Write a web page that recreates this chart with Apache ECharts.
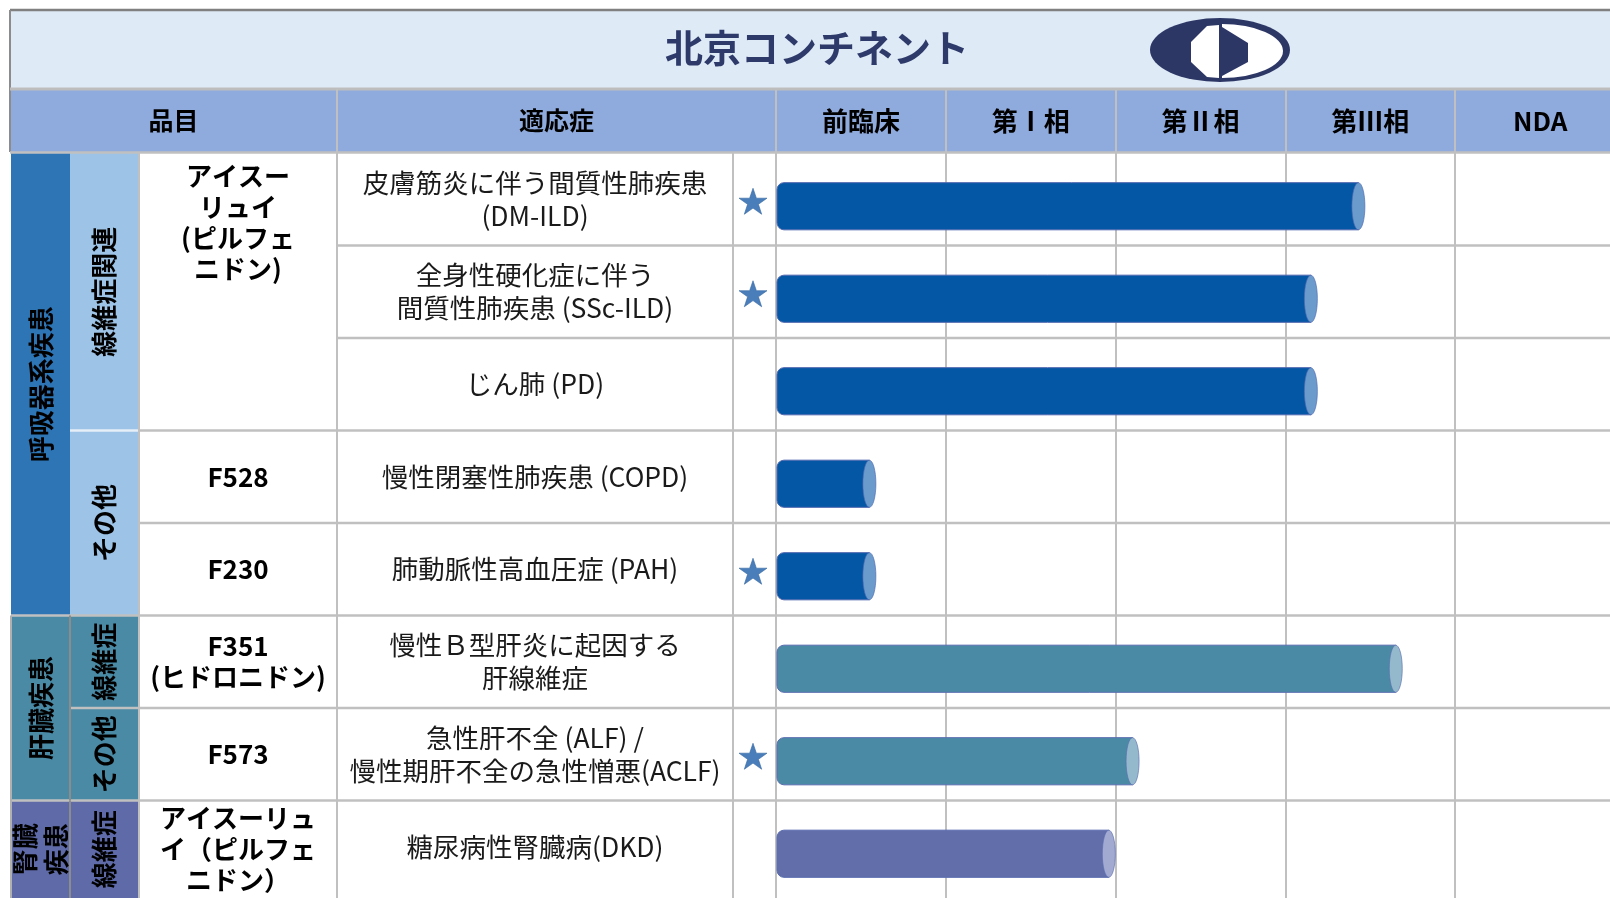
<!DOCTYPE html>
<html>
<head>
<meta charset="utf-8">
<script src="https://cdn.jsdelivr.net/npm/echarts@6/dist/echarts.min.js"></script>
<style>
html, body { margin: 0; padding: 0; background: #ffffff; }
#chart { width: 1610px; height: 898px; }
</style>
</head>
<body>
<div id="chart"></div>
<script>
// ---------------- data ----------------
const titleText = '北京コンチネント';
const headerProduct = '品目';
const headerIndication = '適応症';
const phases = ['前臨床', '第Ⅰ相', '第Ⅱ相', '第Ⅲ相', 'NDA'];
const indications = [
  '皮膚筋炎に伴う間質性肺疾患\n(DM-ILD)',
  '全身性硬化症に伴う\n間質性肺疾患 (SSc-ILD)',
  'じん肺 (PD)',
  '慢性閉塞性肺疾患 (COPD)',
  '肺動脈性高血圧症 (PAH)',
  '慢性Ｂ型肝炎に起因する\n肝線維症',
  '急性肝不全 (ALF) /\n慢性期肝不全の急性憎悪(ACLF)',
  '糖尿病性腎臓病(DKD)'
];
// progress measured in phases (1 = one full phase column)
const progress = [3.43, 3.15, 3.15, 0.55, 0.55, 3.65, 2.10, 1.96];
const areaOfRow = [0, 0, 0, 0, 0, 1, 1, 2];
const starred = [1, 1, 0, 0, 1, 0, 1, 0];
const areas = ['呼吸器系疾患', '肝臓疾患', '腎臓\n疾患'];
const areaRows = [[0, 4], [5, 6], [7, 7]];
const subgroups = ['線維症関連', 'その他', '線維症', 'その他', '線維症'];
const subgroupRows = [[0, 2], [3, 4], [5, 5], [6, 6], [7, 7]];
const products = ['アイスー\nリュイ\n(ピルフェ\nニドン)', 'F528', 'F230', 'F351\n(ヒドロニドン)', 'F573', 'アイスーリュ\nイ（ピルフェ\nニドン）'];
const productRows = [[0, 2], [3, 3], [4, 4], [5, 5], [6, 6], [7, 7]];

// ---------------- styles / layout ----------------
const FONT = '"Noto Sans CJK JP", "Noto Sans", sans-serif';
const areaColors = ['#2E75B6', '#4A8AA5', '#5F6BA8'];
const subColors = ['#9DC3E6', '#9DC3E6', '#4A8AA5', '#4A8AA5', '#5F6BA8'];
const barStyles = [
  { body: '#0457A4', cap: '#6A9BCC', edge: '#5068B0' },
  { body: '#4A8AA5', cap: '#95B9CC', edge: '#5A6DB0' },
  { body: '#616EAA', cap: '#A3AAD1', edge: '#5A6DB0' }
];
const LINE = '#C0C0C0';
const COL = { left: 10, c1: 70, c2: 139, c3: 337, c4: 733, c5: 776, right: 1610 };
const TITLE_TOP = 10, HEAD_TOP = 89, HEAD_BOTTOM = 152, BOTTOM = 898;
const starPath = 'path://M50,0 L61.8,35.1 L98.9,35.1 L68.9,56.8 L80.3,91.9 L50,70.2 L19.7,91.9 L31.1,56.8 L1.1,35.1 L38.2,35.1 Z';

const chart = echarts.init(document.getElementById('chart'), null, { renderer: 'canvas' });

function renderBar(params, api) {
  const v = api.value(0), row = api.value(1), area = api.value(2);
  const a = api.coord([0, row]);
  const b = api.coord([v, row]);
  const band = api.size([0, 1])[1];
  const h = band * 0.51;
  const cy = a[1] + 7;
  const top = cy - h / 2;
  const rx = 6.5;
  const st = barStyles[area];
  return {
    type: 'group',
    children: [
      { type: 'rect', shape: { x: a[0] + 1, y: top, width: b[0] - a[0] - 1, height: h, r: [7, 0, 0, 7] },
        style: { fill: st.body, stroke: st.edge, lineWidth: 1 } },
      { type: 'circle', x: b[0], y: cy, scaleX: rx / (h / 2), shape: { cx: 0, cy: 0, r: h / 2 },
        style: { fill: st.cap, stroke: st.edge, lineWidth: 1, strokeNoScale: true } }
    ]
  };
}

const option = {
  animation: false,
  textStyle: { fontFamily: FONT },
  grid: { left: COL.c5, top: 153, width: 849, height: 740, containLabel: false, outerBoundsMode: 'none' },
  xAxis: [
    { type: 'value', min: 0, max: 5, interval: 1, position: 'bottom', z: 3,
      axisLine: { show: false }, axisLabel: { show: false },
      axisTick: { show: true, length: 6, lineStyle: { color: LINE, width: 2 } },
      splitLine: { show: true, lineStyle: { color: LINE, width: 2 } } },
    { type: 'category', data: phases, position: 'top', boundaryGap: true, z: 3,
      axisLine: { show: false },
      axisTick: { show: true, length: 63, lineStyle: { color: LINE, width: 2 } },
      axisLabel: { interval: 0, fontSize: 26, fontWeight: 'bold', color: '#000', margin: 19, fontFamily: FONT },
      splitLine: { show: false } }
  ],
  yAxis: {
    type: 'category', data: indications, inverse: true, z: 3,
    axisLine: { show: false }, axisTick: { show: false }, splitLine: { show: false },
    axisLabel: { interval: 0, align: 'center', margin: COL.c5 - (COL.c3 + COL.c4) / 2,
      fontSize: 26.5, lineHeight: 33, color: '#1A1A1A', fontFamily: FONT }
  },
  series: [
    { type: 'custom', xAxisIndex: 0, yAxisIndex: 0, renderItem: renderBar, clip: false, z: 10, silent: true,
      encode: { x: 0, y: 1 },
      data: progress.map((v, i) => [v, i, areaOfRow[i]]) },
    { type: 'scatter', xAxisIndex: 0, yAxisIndex: 0, clip: false, z: 11, silent: true,
      symbol: starPath, symbolSize: [28, 26], symbolOffset: [-23, 2],
      itemStyle: { color: '#4A7EBB', borderColor: '#34669F', borderWidth: 0.6, opacity: 1 },
      data: starred.map((s, i) => s ? [0, i] : null).filter(d => d) }
  ]
};
chart.setOption(option);

// ---------- table drawn around the axes, positioned from the category scale ----------
const yc = i => chart.convertToPixel({ yAxisIndex: 0 }, i);
const band = yc(1) - yc(0);
const rowTop = i => yc(i) - band / 2;
const rowBottom = i => (i === indications.length - 1 ? BOTTOM : yc(i) + band / 2);

const g = [];
function line(x1, y1, x2, y2, color, w, z) {
  g.push({ type: 'line', z: z || 2, silent: true, shape: { x1, y1, x2, y2 }, style: { stroke: color, lineWidth: w } });
}
function rect(x, y, w, h, fill, z) {
  g.push({ type: 'rect', z: z || 0, silent: true, shape: { x, y, width: w, height: h }, style: { fill } });
}
function text(t, x, y, opts) {
  opts = opts || {};
  g.push({ type: 'text', z: 4, silent: true, x, y, rotation: opts.rot || 0,
    style: { text: t, fill: opts.color || '#000', fontSize: opts.size || 25, fontWeight: opts.weight || 'normal',
      fontFamily: FONT, lineHeight: opts.lh || 31,
      align: 'center', textAlign: 'center',
      verticalAlign: opts.va || 'middle', textVerticalAlign: opts.va || 'middle' } });
}

// title band
rect(COL.left, TITLE_TOP, COL.right - COL.left, HEAD_TOP - TITLE_TOP, '#DEEAF6');
line(COL.left, TITLE_TOP, COL.right, TITLE_TOP, '#808080', 2.5);
line(COL.left, TITLE_TOP, COL.left, HEAD_BOTTOM, '#8C8C8C', 2);
text(titleText, 817, 48, { size: 38, weight: 'bold', color: '#2E3A6A' });
// logo
g.push({ type: 'circle', z: 3, silent: true, x: 1220, y: 50, scaleX: 70 / 32, shape: { cx: 0, cy: 0, r: 32 }, style: { fill: '#2D3766' } });
g.push({ type: 'sector', z: 3, silent: true, x: 1222, y: 51, scaleX: 61 / 27,
  shape: { cx: 0, cy: 0, r0: 0, r: 27, startAngle: -Math.PI / 2, endAngle: Math.PI / 2, clockwise: true }, style: { fill: '#FFFFFF' } });
g.push({ type: 'polygon', z: 3, silent: true, shape: { points: [[1219, 25], [1207, 26], [1191, 42], [1191, 62], [1207, 77], [1219, 78]] }, style: { fill: '#FFFFFF' } });
g.push({ type: 'polygon', z: 3, silent: true, shape: { points: [[1222, 27], [1248, 43], [1248, 62], [1222, 76]] }, style: { fill: '#2D3766' } });

// header band
rect(COL.left, HEAD_TOP + 1, COL.right - COL.left, HEAD_BOTTOM - HEAD_TOP - 1, '#8FAADC');
line(COL.left, HEAD_TOP, COL.right, HEAD_TOP, '#BDBDBD', 3);
line(COL.left, HEAD_BOTTOM + 0.5, COL.right, HEAD_BOTTOM + 0.5, LINE, 2.5);
line(COL.c3, HEAD_TOP, COL.c3, HEAD_BOTTOM, LINE, 2);
text(headerProduct, (COL.left + COL.c3) / 2, 120, { size: 25, weight: 'bold' });
text(headerIndication, (COL.c3 + COL.c5) / 2, 120, { size: 25, weight: 'bold' });

// disease areas (level 1)
areas.forEach((name, k) => {
  const [r0, r1] = areaRows[k];
  const t = rowTop(r0), b = rowBottom(r1);
  rect(COL.left + 1, t, COL.c1 - COL.left - 1, b - t, areaColors[k]);
  text(name, (COL.left + COL.c1) / 2 + 1, (t + b) / 2, { size: 26, weight: 'bold', rot: Math.PI / 2, lh: 31 });
});
// sub groups (level 2)
subgroups.forEach((name, k) => {
  const [r0, r1] = subgroupRows[k];
  const t = rowTop(r0), b = rowBottom(r1);
  rect(COL.c1, t, COL.c2 - COL.c1, b - t, subColors[k]);
  text(name, (COL.c1 + COL.c2) / 2, (t + b) / 2, { size: 26, weight: 'bold', rot: Math.PI / 2 });
});
// products
products.forEach((name, k) => {
  const [r0, r1] = productRows[k];
  const t = rowTop(r0), b = rowBottom(r1);
  if (r1 > r0) {
    text(name, (COL.c2 + COL.c3) / 2, t + 8, { size: 26, weight: 'bold', va: 'top', lh: 31 });
  } else {
    text(name, (COL.c2 + COL.c3) / 2, (t + b) / 2, { size: 26, weight: 'bold', lh: 31 });
  }
});

// horizontal row separators
for (let i = 1; i < indications.length; i++) {
  const y = rowTop(i);
  let x0 = COL.c3;
  if (productRows.some(r => r[0] === i)) x0 = COL.c2;
  let subStart = subgroupRows.some(r => r[0] === i);
  let areaStart = areaRows.some(r => r[0] === i);
  if (areaStart) x0 = COL.left + 1;
  else if (subStart) {
    if (areaOfRow[i] === 0) line(COL.c1, y, COL.c2, y, '#E6EEF7', 2.5);
    else x0 = COL.c1;
  }
  line(x0, y, COL.right, y, LINE, 2.5);
}
// vertical separators
areaRows.forEach((r, k) => {
  if (k > 0) line(COL.c1, rowTop(r[0]), COL.c1, rowBottom(r[1]), '#8C8C8C', 2);
});
line(COL.c2, HEAD_BOTTOM, COL.c2, BOTTOM, LINE, 2);
line(COL.c3, HEAD_BOTTOM, COL.c3, BOTTOM, LINE, 2);
line(COL.c4, HEAD_BOTTOM, COL.c4, BOTTOM, LINE, 2);
line(COL.left + 1, rowTop(areaRows[1][0]), COL.left + 1, BOTTOM, '#B0B0B0', 2);

chart.setOption({ graphic: { elements: g } });
</script>
</body>
</html>
